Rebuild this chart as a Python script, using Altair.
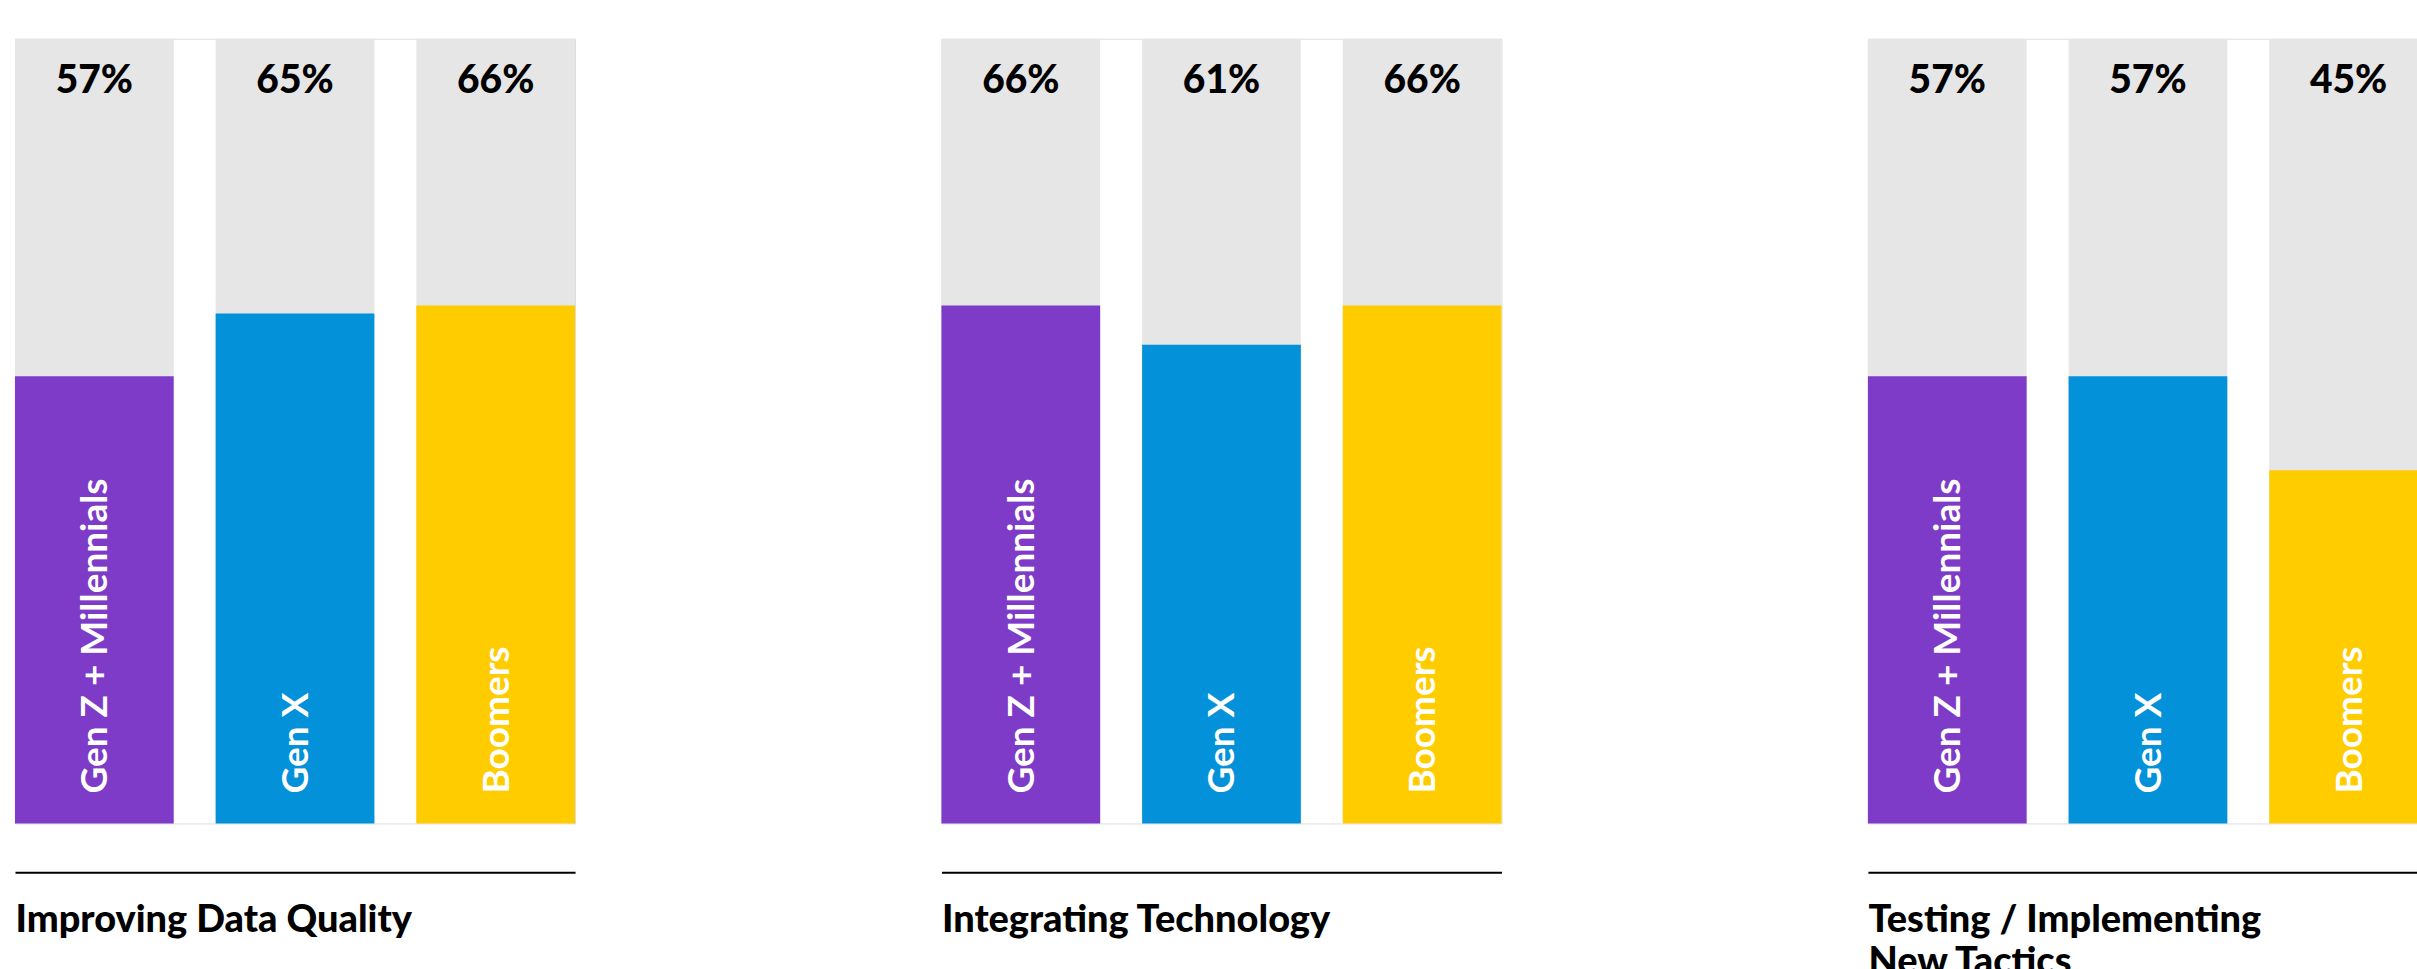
import altair as alt
import pandas as pd

# ---- data ----
categories = ["Improving Data Quality", "Integrating Technology", "Testing / Implementing New Tactics"]
category_titles = [["Improving Data Quality"], ["Integrating Technology"], ["Testing / Implementing", "New Tactics"]]
generations = ["Gen Z + Millennials", "Gen X", "Boomers"]
values_data_quality = [57, 65, 66]
values_technology = [66, 61, 66]
values_new_tactics = [57, 57, 45]
all_values = [values_data_quality, values_technology, values_new_tactics]

colors = ["#7E3BC7", "#0391DA", "#FFCC00"]
track_color = "#E6E6E6"
FONT = "Lato"

panels = []
for cat, title, vals in zip(categories, category_titles, all_values):
    df = pd.DataFrame({
        "generation": generations,
        "value": vals,
        "full": [100] * len(vals),
        "zero": [0] * len(vals),
        "label": [f"{v}%" for v in vals],
    })
    x_enc = alt.X(
        "generation:N",
        sort=generations,
        scale=alt.Scale(paddingInner=0.209, paddingOuter=0),
        axis=alt.Axis(
            title=title,
            labels=False,
            ticks=False,
            grid=False,
            domain=True,
            domainColor="#000000",
            domainWidth=2,
            offset=49,
            titleAnchor="start",
            titleAlign="left",
            titleFont=FONT,
            titleFontSize=38,
            titleFontWeight=900,
            titleColor="#000000",
            titlePadding=29,
            titleLineHeight=42,
        ),
    )
    yscale = alt.Scale(domain=[0, 100], nice=False, zero=True)
    base = alt.Chart(df).encode(x=x_enc)

    track = base.mark_bar(color=track_color).encode(
        y=alt.Y("full:Q", scale=yscale, axis=None)
    )
    bars = base.mark_bar().encode(
        y=alt.Y("value:Q", scale=yscale, axis=None),
        color=alt.Color("generation:N", scale=alt.Scale(domain=generations, range=colors), legend=None),
    )
    pct = base.mark_text(
        font=FONT, fontSize=39, fontWeight=900, color="#000000",
        baseline="alphabetic", align="center", dy=54,
    ).encode(
        y=alt.Y("full:Q", scale=yscale, axis=None),
        text="label:N",
    )
    names = base.mark_text(
        font=FONT, fontSize=37, fontWeight="bold", color="#FFFFFF",
        angle=270, align="left", baseline="middle", dx=30, dy=2,
    ).encode(
        y=alt.Y("zero:Q", scale=yscale, axis=None),
        text="generation:N",
    )
    panel = alt.layer(track, bars, pct, names).properties(width=561, height=786)
    panels.append(panel)

# the reference is cropped at the right and bottom edges: negative padding
# keeps the drawing at full scale and lets the window crop it the same way
chart = alt.hconcat(*panels, spacing=365).properties(
    padding={"left": 14, "top": 37, "right": -12, "bottom": -14}
).configure_view(stroke=None).configure(font=FONT)

chart.save("out.html", embed_options={"renderer": "svg", "actions": False})
